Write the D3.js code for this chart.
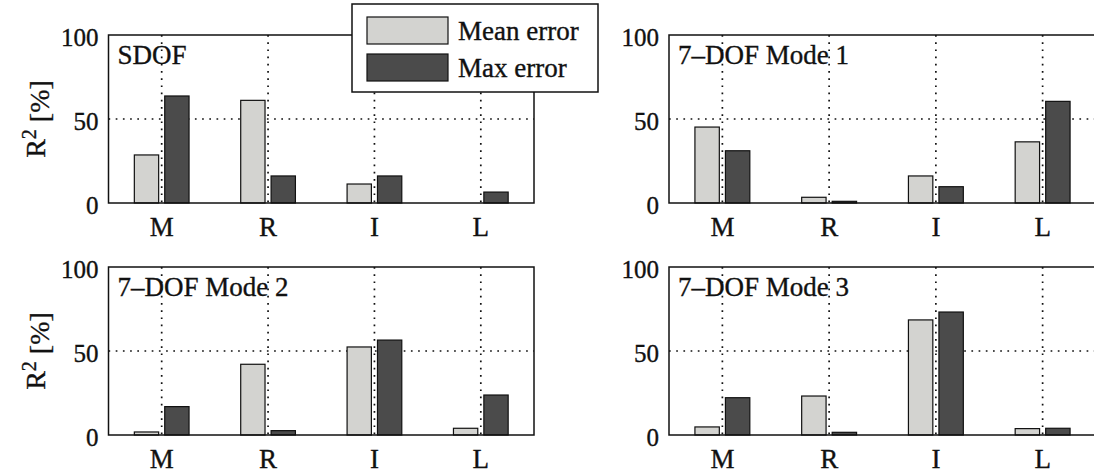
<!DOCTYPE html>
<html>
<head>
<meta charset="utf-8">
<script src="https://cdn.jsdelivr.net/npm/d3@7"></script>
<style>
  html, body { margin: 0; padding: 0; background: #fff; }
  svg { display: block; }
  text { font-family: "Liberation Serif", "Times New Roman", serif; fill: #111; stroke: #111; stroke-width: 0.35px; }
</style>
</head>
<body>
<svg id="chart" width="1094" height="473"></svg>
<script>
// ---- data ----
const categories = ["M", "R", "I", "L"];
const series = ["Mean error", "Max error"];
const panelTitles = ["SDOF", "7\u2013DOF Mode 1", "7\u2013DOF Mode 2", "7\u2013DOF Mode 3"];
const yTicks = [0, 50, 100];
const sdofMean  = [28.6, 61.1, 11.3, 0];
const sdofMax   = [63.7, 16.1, 16.1, 6.5];
const mode1Mean = [45.2, 3.4, 16.1, 36.4];
const mode1Max  = [31.1, 1.0, 9.7, 60.5];
const mode2Mean = [1.8, 42.1, 52.4, 4.0];
const mode2Max  = [16.9, 2.6, 56.5, 23.8];
const mode3Mean = [4.8, 23.2, 68.5, 3.8];
const mode3Max  = [22.2, 1.6, 73.2, 4.0];

const panelData = [
  [sdofMean, sdofMax],
  [mode1Mean, mode1Max],
  [mode2Mean, mode2Max],
  [mode3Mean, mode3Max]
];

// ---- layout ----
const layout = [
  { left: 108.5, right: 534, top: 35, bottom: 203, ylabel: true },
  { left: 669, right: 1096, top: 35, bottom: 203, ylabel: false },
  { left: 108.5, right: 534, top: 267, bottom: 435, ylabel: true },
  { left: 669, right: 1096, top: 267, bottom: 435, ylabel: false }
];
const colors = { "Mean error": "#d3d3d0", "Max error": "#4b4b4b" };
const FS = 25;

const svg = d3.select("#chart");

layout.forEach((L, pi) => {
  const g = svg.append("g");
  const x = d3.scaleBand().domain(categories).range([L.left, L.right]).padding(0);
  const bw = x.bandwidth();
  const xs = d3.scaleBand().domain(series).range([-0.2857 * bw, 0.2857 * bw]).padding(0);
  const y = d3.scaleLinear().domain([0, 100]).range([L.bottom, L.top]);

  g.append("rect").attr("x", L.left).attr("y", L.top)
    .attr("width", L.right - L.left).attr("height", L.bottom - L.top).attr("fill", "#fff");

  // grid lines (dotted)
  g.selectAll(".vgrid").data(categories).join("line")
    .attr("x1", d => x(d) + bw / 2).attr("x2", d => x(d) + bw / 2)
    .attr("y1", L.top).attr("y2", L.bottom)
    .attr("stroke", "#111").attr("stroke-width", 1.7).attr("stroke-dasharray", "1.7,5.5");
  g.selectAll(".hgrid").data([50]).join("line")
    .attr("x1", L.left).attr("x2", L.right)
    .attr("y1", d => y(d)).attr("y2", d => y(d))
    .attr("stroke", "#111").attr("stroke-width", 1.7).attr("stroke-dasharray", "1.7,5.5");

  // bars
  const vals = panelData[pi];
  series.forEach((s, si) => {
    g.selectAll(".bar" + si).data(categories.map((c, ci) => ({ c, v: vals[si][ci] })))
      .join("rect")
      .filter(d => d.v > 0)
      .attr("x", d => x(d.c) + bw / 2 + xs(s) + xs.bandwidth() * 0.1)
      .attr("width", xs.bandwidth() * 0.8)
      .attr("y", d => y(d.v))
      .attr("height", d => y(0) - y(d.v))
      .attr("fill", colors[s])
      .attr("stroke", "#111").attr("stroke-width", 1.2);
  });

  // frame
  g.append("rect").attr("x", L.left).attr("y", L.top)
    .attr("width", L.right - L.left).attr("height", L.bottom - L.top)
    .attr("fill", "none").attr("stroke", "#111").attr("stroke-width", 1.5);

  // y axis
  const ya = d3.axisLeft(y).tickValues(yTicks).tickSize(0).tickPadding(10);
  const yg = g.append("g").attr("transform", `translate(${L.left},0)`).call(ya);
  yg.select(".domain").remove();
  yg.selectAll("text").style("font-size", FS + "px").style("font-family", '"Liberation Serif", serif')
    .attr("fill", "#111").attr("dy", "0.42em");

  // x axis
  const xa = d3.axisBottom(x).tickSize(0).tickPadding(14);
  const xg = g.append("g").attr("transform", `translate(0,${L.bottom})`).call(xa);
  xg.select(".domain").remove();
  xg.selectAll("text").style("font-size", "27px").style("font-family", '"Liberation Serif", serif')
    .attr("fill", "#111").attr("dy", "0.71em");

  // title
  g.append("text").attr("x", L.left + 9).attr("y", L.top + 29)
    .style("font-size", "27px").text(panelTitles[pi]);

  // y label
  if (L.ylabel) {
    const t = g.append("text")
      .attr("transform", `translate(45,${(L.top + L.bottom) / 2}) rotate(-90)`)
      .attr("text-anchor", "middle").style("font-size", "28px");
    t.append("tspan").text("R");
    t.append("tspan").attr("dy", "-0.45em").style("font-size", "20px").text("2");
    t.append("tspan").attr("dy", "0.45em").text(" [%]");
  }
});

// legend
const lg = svg.append("g");
lg.append("rect").attr("x", 352).attr("y", 4).attr("width", 246).attr("height", 88)
  .attr("fill", "#fff").attr("stroke", "#111").attr("stroke-width", 1.5);
series.forEach((s, i) => {
  lg.append("rect").attr("x", 367).attr("y", 17 + i * 37).attr("width", 81).attr("height", 27)
    .attr("fill", colors[s]).attr("stroke", "#111").attr("stroke-width", 1.2);
  lg.append("text").attr("x", 458).attr("y", 40 + i * 37).style("font-size", "27px").text(s);
});
</script>
</body>
</html>
